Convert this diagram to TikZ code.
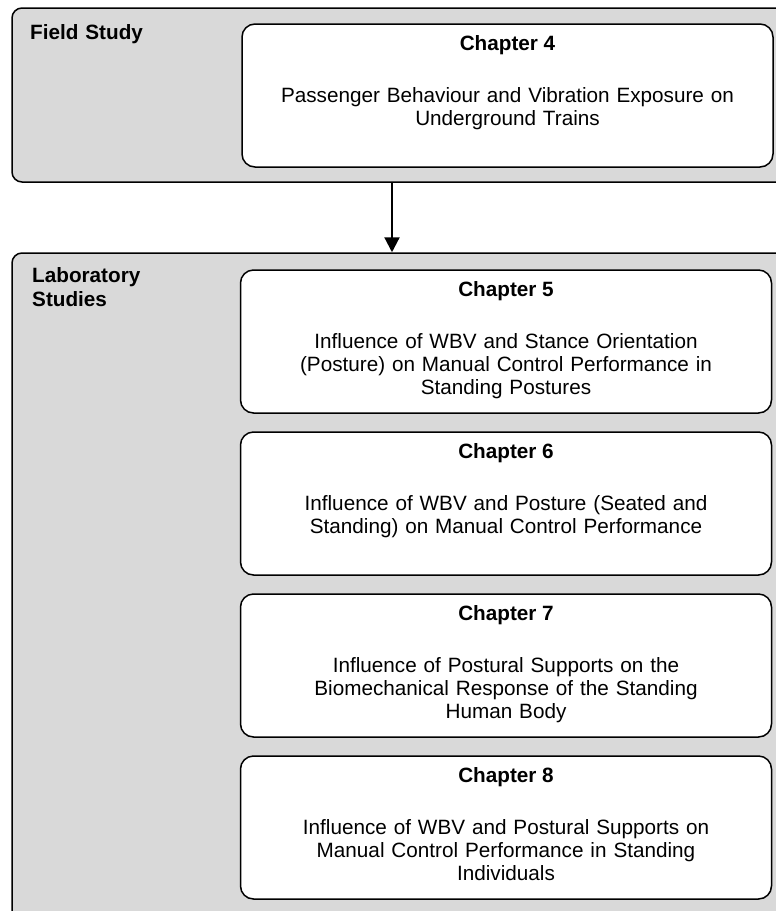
\documentclass[tikz,border=0pt]{standalone}
\usepackage{fontspec}
\setmainfont{Liberation Sans}
\usepackage{tikz}
\usetikzlibrary{positioning, arrows.meta}
\definecolor{PanelGray}{RGB}{217,217,217}

\begin{document}
\begin{tikzpicture}[x=1pt, y=-1pt,
  panel/.style={rectangle, rounded corners=10pt, draw=black, line width=1.5pt, fill=PanelGray, inner sep=0pt},
  chapbox/.style={rectangle, rounded corners=13pt, draw=black, line width=1.5pt, fill=white, minimum width=531pt, minimum height=143pt, inner sep=0pt},
  panelname/.style={font=\fontsize{20.7}{24.5}\selectfont\bfseries, align=left, text width=200pt, inner sep=0pt, anchor=base west},
  chaphead/.style={font=\fontsize{20.7}{23}\selectfont\bfseries, inner sep=0pt},
  chaptext/.style={font=\fontsize{20.7}{23}\selectfont, align=center, text width=520pt, inner sep=0pt},
  arrow/.style={-{Triangle[width=15pt,length=15pt]}, line width=2.2pt}
]
\useasboundingbox (0,0) rectangle (776,911);
\clip (0,0) rectangle (776,911);

% Field study (top)
\node[panel, minimum width=800pt, minimum height=174pt] (field) at (412,95) {};
\node[panelname] (fieldname) at (30,39.4) {Field Study};

\node[chapbox] (ch4) at (507.5,95.5) {};
\node[chaphead, below=27.4pt of ch4.north, anchor=base] (ch4head) {Chapter 4};
\node[chaptext, below=79.4pt of ch4.north, anchor=base] (ch4text) {Passenger Behaviour and Vibration Exposure on\\Underground Trains};

% Laboratory studies (bottom)
\node[panel, minimum width=800pt, minimum height=687pt] (lab) at (412,596.5) {};
\node[panelname] (labname) at (32,282.4) {Laboratory\\Studies};

\node[chapbox] (ch5) at (506,341.5) {};
\node[chaphead, below=27.4pt of ch5.north, anchor=base] (ch5head) {Chapter 5};
\node[chaptext, below=79.4pt of ch5.north, anchor=base] (ch5text) {Influence of WBV and Stance Orientation\\(Posture) on Manual Control Performance in\\Standing Postures};

\node[chapbox] (ch6) at (506,503.5) {};
\node[chaphead, below=27.4pt of ch6.north, anchor=base] (ch6head) {Chapter 6};
\node[chaptext, below=79.4pt of ch6.north, anchor=base] (ch6text) {Influence of WBV and Posture (Seated and\\Standing) on Manual Control Performance};

\node[chapbox] (ch7) at (506,665.5) {};
\node[chaphead, below=27.4pt of ch7.north, anchor=base] (ch7head) {Chapter 7};
\node[chaptext, below=79.4pt of ch7.north, anchor=base] (ch7text) {Influence of Postural Supports on the\\Biomechanical Response of the Standing\\Human Body};

\node[chapbox] (ch8) at (506,827.5) {};
\node[chaphead, below=27.4pt of ch8.north, anchor=base] (ch8head) {Chapter 8};
\node[chaptext, below=79.4pt of ch8.north, anchor=base] (ch8text) {Influence of WBV and Postural Supports on\\Manual Control Performance in Standing\\Individuals};

% field -> lab
\coordinate (arrowx) at (392,0);
\draw[arrow] (field.south -| arrowx) -- (lab.north -| arrowx);
\end{tikzpicture}
\end{document}
